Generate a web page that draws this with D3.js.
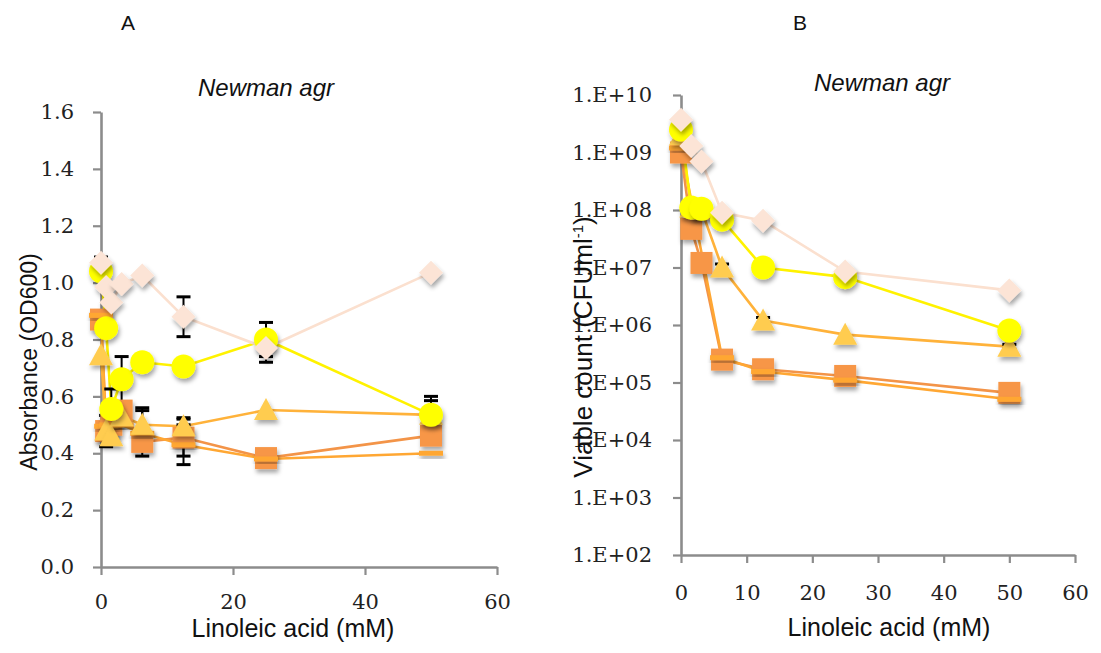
<!DOCTYPE html>
<html>
<head>
<meta charset="utf-8">
<script src="https://cdn.jsdelivr.net/npm/d3@7"></script>
<style>
  html, body { margin: 0; padding: 0; background: #fff; }
  svg { display: block; }
  .tick text { font-family: "DejaVu Serif", serif; font-size: 21px; fill: #222; }
  .lab { font-family: "Liberation Sans", Arial, sans-serif; fill: #111; }
</style>
</head>
<body>
<script>
// ---- Panel A: absorbance (OD600) versus linoleic acid concentration ----
const concA = [0, 0.78, 1.56, 3.125, 6.25, 12.5, 25, 50];
const odDiamond  = [1.07, 0.985, 0.93, 0.995, 1.025, 0.88, 0.77, 1.035];
const odCircle   = [1.04, 0.84, 0.556, 0.66, 0.72, 0.705, 0.80, 0.535];
const odTriangle = [0.745, 0.48, 0.46, 0.53, 0.50, 0.495, 0.552, 0.535];
const odSquare   = [0.87, 0.478, 0.50, 0.55, 0.44, 0.455, 0.383, 0.462];
const odDash     = [0.885, 0.495, 0.50, 0.50, 0.47, 0.43, 0.38, 0.40];
const odDiamondErr  = [0.02, 0.01, 0, 0.01, 0, 0.07, 0.05, 0.005];
const odCircleErr   = [0, 0.02, 0.07, 0.08, 0, 0, 0.06, 0.065];
const odTriangleErr = [0, 0, 0, 0.03, 0.06, 0.03, 0, 0.05];
const odSquareErr   = [0, 0.055, 0.06, 0, 0, 0.065, 0, 0];
const odDashErr     = [0, 0, 0, 0, 0.08, 0.07, 0, 0];

// ---- Panel B: viable count (CFU/ml) versus linoleic acid concentration ----
const concB = [0, 1.56, 3.125, 6.25, 12.5, 25, 50];
const cfuDiamond  = [3.7e9, 1.3e9, 7.0e8, 9.0e7, 6.5e7, 8.5e6, 4.0e6];
const cfuCircle   = [2.5e9, 1.1e8, 1.05e8, 6.8e7, 1.0e7, 6.8e6, 8.0e5];
const cfuTriangle = [2.0e9, 1.1e8, 1.0e8, 1.0e7, 1.2e6, 6.8e5, 4.2e5];
const cfuSquare   = [1.0e9, 4.7e7, 1.2e7, 2.5e5, 1.7e5, 1.3e5, 6.6e4];
const cfuDash     = [1.2e9, null, null, 2.7e5, 1.55e5, 1.1e5, 5.1e4];
const cfuTriangleErr = [0, 0, 0, 1.5e6, 1.5e5, 0, 4e4];

// tick values
const ticksAy = [0, 0.2, 0.4, 0.6, 0.8, 1.0, 1.2, 1.4, 1.6];
const ticksAx = [0, 20, 40, 60];
const ticksBy = [1e2, 1e3, 1e4, 1e5, 1e6, 1e7, 1e8, 1e9, 1e10];
const ticksBx = [0, 10, 20, 30, 40, 50, 60];

// series styling (draw order: first is bottom)
const styles = {
  square:   { fill: "#F79646", line: "#F39448" },
  dash:     { fill: "#FFA733", line: "#FFA733" },
  triangle: { fill: "#FFCC4F", line: "#FFB23A" },
  circle:   { fill: "#FFFF00", line: "#FFF200" },
  diamond:  { fill: "#FCE4D6", line: "#FBE0CF" }
};

const W = 1101, H = 653;
const svg = d3.select("body").append("svg").attr("width", W).attr("height", H);

const defs = svg.append("defs");
const f = defs.append("filter").attr("id", "shadow")
  .attr("x", "-50%").attr("y", "-50%").attr("width", "200%").attr("height", "200%");
f.append("feDropShadow").attr("dx", 1.5).attr("dy", 3.5).attr("stdDeviation", 2)
  .attr("flood-color", "#000").attr("flood-opacity", 0.35);

function markerPath(shape) {
  switch (shape) {
    case "square":   return "M-11,-11H11V11H-11Z";
    case "circle":   return d3.arc()({ innerRadius: 0, outerRadius: 12, startAngle: 0, endAngle: 2 * Math.PI });
    case "diamond":  return "M0,-12L12,0L0,12L-12,0Z";
    case "triangle": return "M0,-12L12,10L-12,10Z";
    case "dash":     return "M-12,-2.5H12V2.5H-12Z";
  }
}

function drawPanel(cfg) {
  const g = svg.append("g");
  const x = d3.scaleLinear().domain([0, 60]).range(cfg.xRange);
  const y = cfg.yScale;

  // axes
  const yAxis = d3.axisLeft(y).tickValues(cfg.yTicks).tickSize(8).tickSizeOuter(0)
    .tickPadding(cfg.yPad).tickFormat(cfg.yFormat);
  const xAxis = d3.axisBottom(x).tickValues(cfg.xTicks).tickSize(8).tickSizeOuter(0)
    .tickPadding(cfg.xPad).tickFormat(d3.format("d"));
  const gy = g.append("g").attr("transform", `translate(${cfg.xRange[0]},0)`).call(yAxis);
  const gx = g.append("g").attr("transform", `translate(0,${y.range()[0]})`).call(xAxis);
  [gx, gy].forEach(a => {
    a.select(".domain").attr("stroke", "#8c8c8c").attr("stroke-width", 2.6);
    a.selectAll(".tick line").attr("stroke", "#8c8c8c").attr("stroke-width", 2.2);
    a.selectAll(".tick text").attr("font-family", null).attr("font-size", null);
  });

  const line = d3.line().x(d => x(d.x)).y(d => y(d.y));

  // lines
  cfg.series.forEach(s => {
    const pts = s.values.map((v, i) => ({ x: cfg.conc[i], y: v })).filter(d => d.y != null);
    g.append("path").attr("d", line(pts)).attr("fill", "none")
      .attr("stroke", styles[s.shape].line).attr("stroke-width", 2.6);
  });

  // error bars
  cfg.series.forEach(s => {
    if (!s.err) return;
    s.values.forEach((v, i) => {
      const e = s.err[i];
      if (v == null || !e) return;
      const cx = x(cfg.conc[i]);
      const y1 = y(v + e), y0 = y(Math.max(v - e, cfg.minY));
      g.append("line").attr("x1", cx).attr("x2", cx).attr("y1", y1).attr("y2", y0)
        .attr("stroke", "#000").attr("stroke-width", 2);
      [y1, y0].forEach(yy => g.append("line").attr("x1", cx - 7).attr("x2", cx + 7)
        .attr("y1", yy).attr("y2", yy).attr("stroke", "#000").attr("stroke-width", 3));
    });
  });

  // markers
  cfg.series.forEach(s => {
    s.values.forEach((v, i) => {
      if (v == null) return;
      g.append("path").attr("d", markerPath(s.shape))
        .attr("transform", `translate(${x(cfg.conc[i])},${y(v)})`)
        .attr("fill", styles[s.shape].fill).attr("filter", "url(#shadow)");
    });
  });

  // labels
  g.append("text").attr("class", "lab").attr("x", cfg.titleX).attr("y", cfg.titleY)
    .attr("text-anchor", "middle").attr("font-size", 24).attr("font-style", "italic")
    .text("Newman agr");
  g.append("text").attr("class", "lab").attr("x", cfg.letterX).attr("y", 30)
    .attr("text-anchor", "middle").attr("font-size", 21).text(cfg.letter);
  g.append("text").attr("class", "lab").attr("x", cfg.xLabX).attr("y", cfg.xLabY)
    .attr("text-anchor", "middle").attr("font-size", 25).text("Linoleic acid (mM)");
  const yl = g.append("text").attr("class", "lab")
    .attr("transform", `translate(${cfg.yLabX},${cfg.yLabY}) rotate(-90)`)
    .attr("text-anchor", "middle").attr("font-size", cfg.yLabSize);
  cfg.yLabel(yl);
}

drawPanel({
  letter: "A", letterX: 128,
  conc: concA,
  xRange: [101, 497],
  yScale: d3.scaleLinear().domain([0, 1.6]).range([567, 112]),
  minY: 0,
  yTicks: ticksAy, xTicks: ticksAx,
  yFormat: d3.format(".1f"),
  yPad: 19, xPad: 19,
  titleX: 266, titleY: 96,
  xLabX: 293, xLabY: 637,
  yLabX: 37, yLabY: 362, yLabSize: 23,
  yLabel: t => t.text("Absorbance (OD600)"),
  series: [
    { shape: "square",   values: odSquare,   err: odSquareErr },
    { shape: "dash",     values: odDash,     err: odDashErr },
    { shape: "triangle", values: odTriangle, err: odTriangleErr },
    { shape: "circle",   values: odCircle,   err: odCircleErr },
    { shape: "diamond",  values: odDiamond,  err: odDiamondErr }
  ]
});

drawPanel({
  letter: "B", letterX: 800,
  conc: concB,
  xRange: [681, 1075],
  yScale: d3.scaleLog().domain([1e2, 1e10]).range([555, 95]),
  minY: 1e2,
  yTicks: ticksBy, xTicks: ticksBx,
  yFormat: d => "1.E+" + String(Math.round(Math.log10(d))).padStart(2, "0"),
  yPad: 21, xPad: 22,
  titleX: 882, titleY: 91,
  xLabX: 889, xLabY: 636,
  yLabX: 592, yLabY: 347, yLabSize: 26,
  yLabel: t => {
    t.append("tspan").text("Viable count (CFUml");
    t.append("tspan").attr("dy", -9).attr("font-size", 15).text("-1");
    t.append("tspan").attr("dy", 9).text(")");
  },
  series: [
    { shape: "square",   values: cfuSquare },
    { shape: "dash",     values: cfuDash },
    { shape: "triangle", values: cfuTriangle, err: cfuTriangleErr },
    { shape: "circle",   values: cfuCircle },
    { shape: "diamond",  values: cfuDiamond }
  ]
});
</script>
</body>
</html>
